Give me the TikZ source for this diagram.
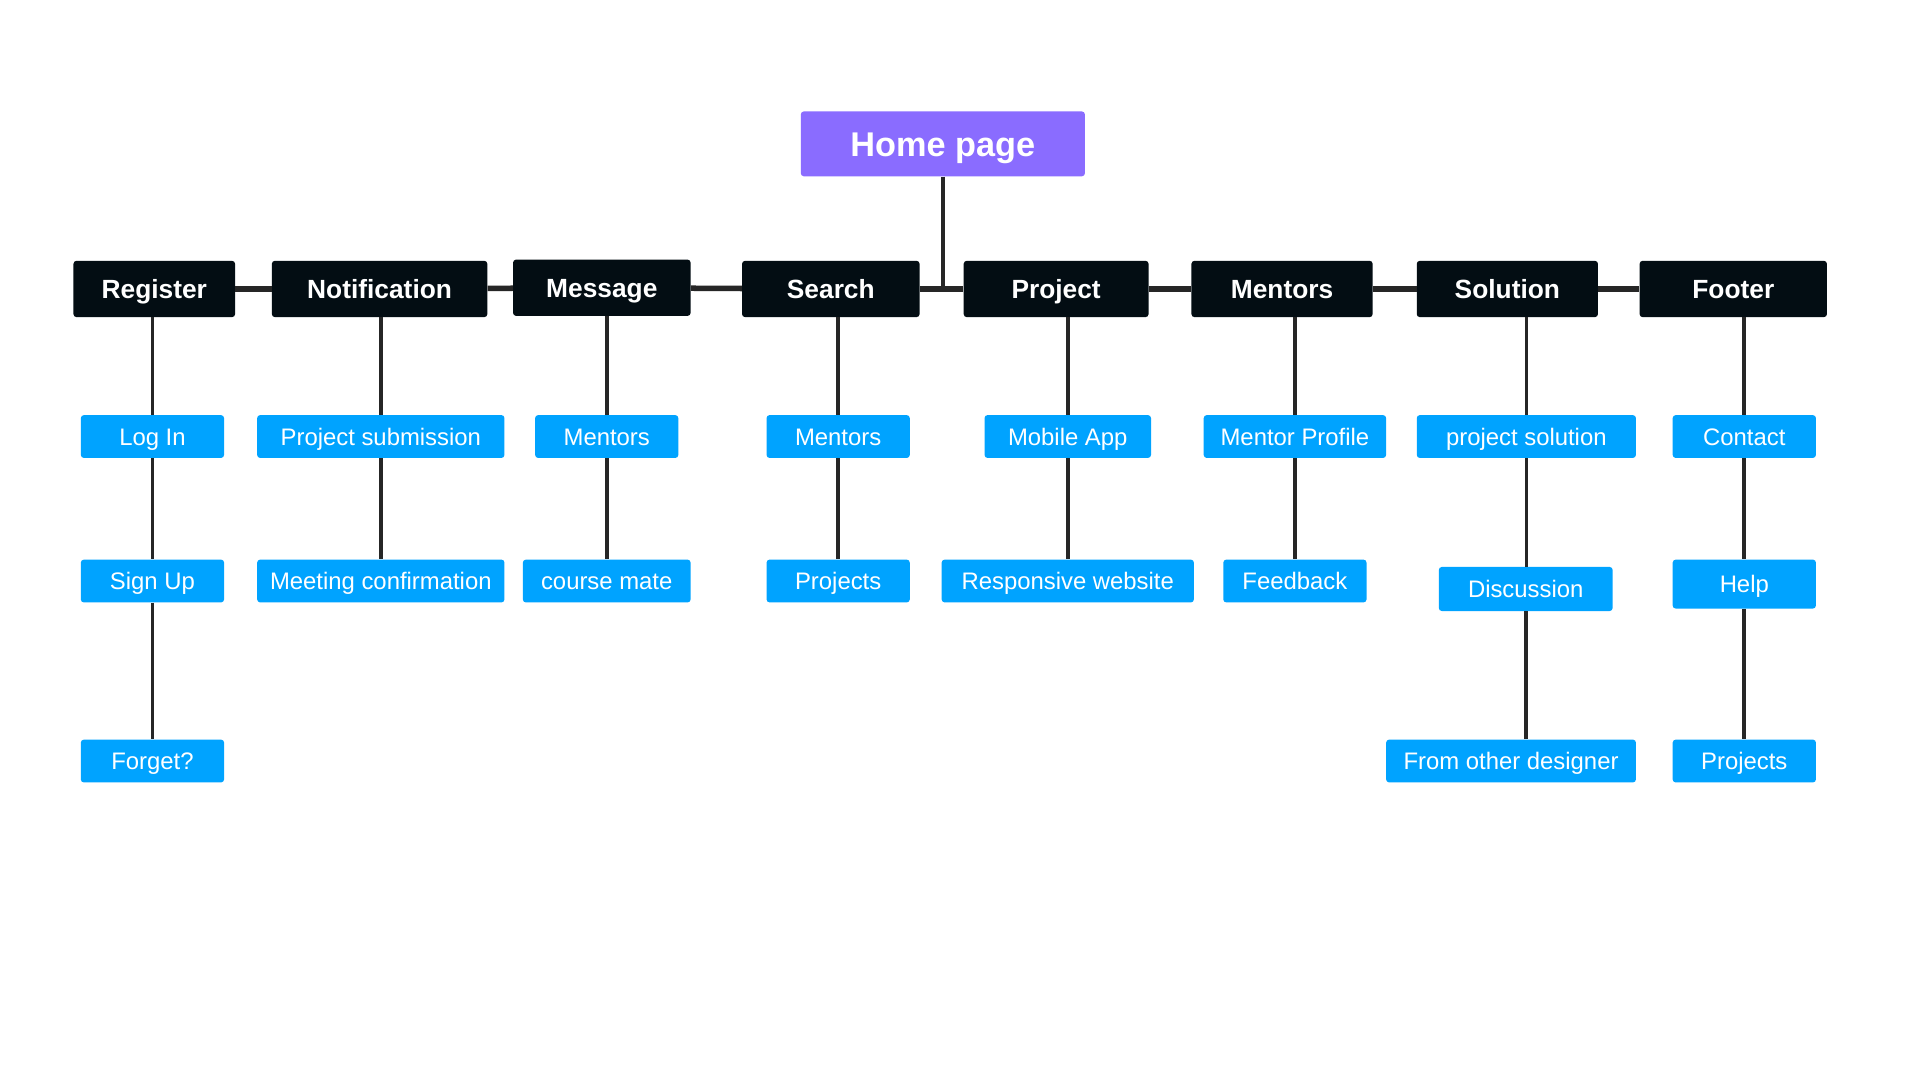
\documentclass[tikz,border=0pt]{standalone}
\usepackage{fontspec}
\setmainfont{Liberation Sans}
\definecolor{homepurple}{HTML}{8A6CFF}
\definecolor{navyblack}{HTML}{030D13}
\definecolor{pageblue}{HTML}{00A3FF}
\definecolor{wire}{HTML}{262626}
\tikzset{
  home/.style={fill=homepurple, text=white, inner sep=0, minimum height=53,
    text height=20, text depth=0, rounded corners=2.5,
    font=\fontsize{28}{32}\selectfont\bfseries},
  section/.style={fill=navyblack, text=white, inner sep=0, minimum height=46,
    text height=15.4, text depth=0, rounded corners=2.5,
    font=\fontsize{21.5}{26}\selectfont\bfseries},
  page/.style={fill=pageblue, text=white, inner sep=0, minimum height=35,
    text height=14, text depth=0, rounded corners=2.5,
    font=\fontsize{19.5}{23}\selectfont},
  bar/.style={wire, line width=4.5},
  link/.style={wire, line width=3},
}
\begin{document}
\begin{tikzpicture}[x=1pt, y=-1pt]
            \useasboundingbox (0,0) rectangle (1568,882);
            \fill[white] (0,0) rectangle (1568,882);

            \node[home, minimum width=232] (home) at (770, 117.5) {Home page};

            % sections
            \node[section, minimum width=132] (reg) at (126, 236) {Register};
            \node[section, minimum width=176] (notif) at (310, 236) {Notification};
            \node[section, minimum width=145] (msg) at (491.5, 235) {Message};
            \node[section, minimum width=145] (srch) at (678.5, 236) {Search};
            \node[section, minimum width=151] (proj) at (862.5, 236) {Project};
            \node[section, minimum width=148] (ment) at (1047, 236) {Mentors};
            \node[section, minimum width=148] (sol) at (1231, 236) {Solution};
            \node[section, minimum width=153] (foot) at (1415.5, 236) {Footer};

            % pages
            \node[page, minimum width=117] (login) at (124.5, 356.5) {Log In};
            \node[page, minimum width=117] (signup) at (124.5, 474.5) {Sign Up};
            \node[page, minimum width=117] (forget) at (124.5, 621.5) {Forget?};

            \node[page, minimum width=202] (psub) at (311, 356.5) {Project submission};
            \node[page, minimum width=202] (meet) at (311, 474.5) {Meeting confirmation};

            \node[page, minimum width=117] (mment) at (495.5, 356.5) {Mentors};
            \node[page, minimum width=137] (cmate) at (495.5, 474.5) {course mate};

            \node[page, minimum width=117] (sment) at (684.5, 356.5) {Mentors};
            \node[page, minimum width=117] (sproj) at (684.5, 474.5) {Projects};

            \node[page, minimum width=136] (mobile) at (872, 356.5) {Mobile App};
            \node[page, minimum width=206] (resp) at (872, 474.5) {Responsive website};

            \node[page, minimum width=149] (mprof) at (1057.5, 356.5) {Mentor Profile};
            \node[page, minimum width=117] (feed) at (1057.5, 474.5) {Feedback};

            \node[page, minimum width=179] (psol) at (1246.5, 356.5) {project solution};
            \node[page, minimum width=142, minimum height=36] (disc) at (1246, 481) {Discussion};
            \node[page, minimum width=204] (fromdes) at (1234, 621.5) {From other designer};

            \node[page, minimum width=117] (contact) at (1424.5, 356.5) {Contact};
            \node[page, minimum width=117, minimum height=40] (help) at (1424.5, 477) {Help};
            \node[page, minimum width=117] (fproj) at (1424.5, 621.5) {Projects};

            % connectors
            \draw[link] (home.south) -- (home.south |- srch.east);
            \foreach \a/\b in {reg/notif, notif/msg, msg/srch, srch/proj, proj/ment, ment/sol, sol/foot}
                \draw[bar] (\a) -- (\b);
            \foreach \a/\b in {reg/login, notif/psub, msg/mment, srch/sment, proj/mobile, ment/mprof, sol/psol, foot/contact}
                \draw[link] (\b.north |- \a.south) -- (\b.north);
            \foreach \a/\b in {login/signup, signup/forget, psub/meet, mment/cmate, sment/sproj, mobile/resp, mprof/feed, psol/disc, disc/fromdes, contact/help, help/fproj}
                \draw[link] (\a.south) -- (\a.south |- \b.north);
        \end{tikzpicture}
\end{document}
